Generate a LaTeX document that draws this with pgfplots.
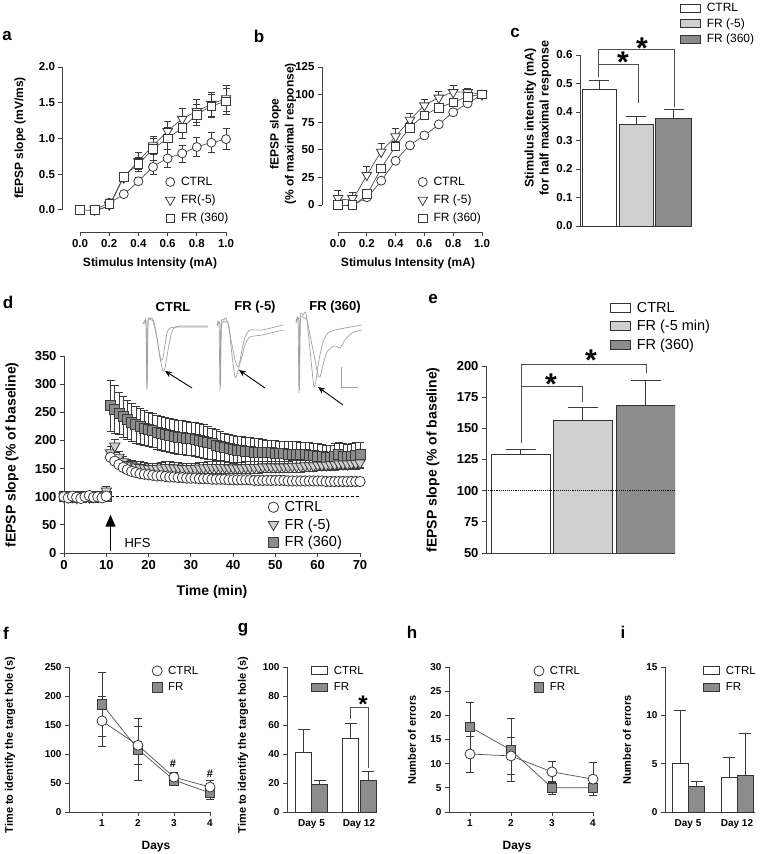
\documentclass[border=0pt]{standalone}
\usepackage{pgfplots}
\pgfplotsset{compat=1.18}
\usepackage{fontspec}
\setmainfont{Liberation Sans}
\usetikzlibrary{arrows.meta}
\definecolor{axc}{HTML}{404040}
\definecolor{mkc}{HTML}{3A3A3A}
\definecolor{lnc}{HTML}{505050}
\definecolor{lgray}{HTML}{CFCFCF}
\definecolor{dgray}{HTML}{8C8C8C}
\definecolor{trc}{HTML}{A0A0A0}
\definecolor{barc}{HTML}{333333}
\newcommand{\fs}[1]{\fontsize{#1}{#1}\selectfont}
\pgfplotsset{
  base/.style={scale only axis, anchor=south west, clip=false,
    axis x line*=bottom, axis y line*=left,
    tick align=outside, major tick length=4pt,
    every tick/.append style={line width=0.8pt, color=axc},
    axis line style={line width=0.8pt, color=axc},
    /pgf/number format/assume math mode=true,
    legend cell align=left,
    legend style={draw=none, fill=none, inner sep=0pt, outer sep=0pt, anchor=north west,
      /tikz/every odd column/.append style={column sep=4pt}}},
  mleg/.style={legend image code/.code={\draw[##1] plot coordinates {(#1,0pt)};}},
  bleg/.style 2 args={legend image code/.code={\draw[##1] (0pt,-#2) rectangle (#1,#2);}},
  eb/.style={/pgfplots/error bars/y dir=both, /pgfplots/error bars/y explicit,
    /pgfplots/error bars/error bar style={line width=0.7pt, color=mkc},
    /pgfplots/error bars/error mark options={rotate=90, mark size=#1, line width=0.7pt, color=mkc}},
  ebp/.style={eb=#1, /pgfplots/error bars/y dir=plus},
  cM/.style={only marks, mark=*, mark size=#1, color=mkc, mark options={fill=white, line width=0.8pt}},
  tM/.style 2 args={only marks, mark=triangle*, mark size=#1, color=mkc, mark options={rotate=180, fill=#2, line width=0.8pt}},
  sM/.style 2 args={only marks, mark=square*, mark size=#1, color=mkc, mark options={fill=#2, line width=0.8pt}},
  ln/.style={no marks, color=lnc, line width=0.7pt, forget plot},
  bb/.style 2 args={ybar, bar width=#1, bar shift=0pt, fill=#2, draw=barc, line width=0.8pt},
}
\begin{document}
\begin{tikzpicture}
\path[use as bounding box] (0pt,0pt) rectangle (762pt,854pt);
% ---------- canvas for inset traces ----------
\begin{axis}[at={(0pt,0pt)}, anchor=south west, scale only axis, width=762pt, height=854pt,
  xmin=0, xmax=762, ymin=0, ymax=854, y dir=reverse, hide axis, clip=false]
\addplot[trc, line width=0.7pt, smooth, tension=0.4] coordinates {(143,323) (145,323) (146,322) (147,390) (148,322) (150,319) (152,318) (154,322) (157,338) (160,358) (163,371) (165,368) (168,350) (171,335) (174,328) (180,326) (195,326) (208,326)};
\addplot[trc, line width=0.7pt, smooth, tension=0.4] coordinates {(143,324) (146,323) (147,388) (148,323) (151,320) (153,321) (156,333) (159,350) (161,360) (163,358) (165,345) (167,333) (170,328) (180,327) (208,327)};
\addplot[trc, line width=0.7pt, smooth, tension=0.4] coordinates {(217,325) (219,324) (220,390) (221,324) (224,320) (226,318) (229,328) (232,355) (235,377) (238,372) (241,355) (245,337) (250,330) (262,330) (283,325)};
\addplot[trc, line width=0.7pt, smooth, tension=0.4] coordinates {(217,326) (220,325) (220.5,386) (221.5,326) (225,322) (228,323) (231,340) (235,360) (238,367) (241,360) (245,345) (250,337) (262,335) (283,330)};
\addplot[trc, line width=0.7pt, smooth, tension=0.4] coordinates {(296,322) (298,320) (299,393) (300,318) (303,315) (306,313) (309,340) (312,370) (314,387) (316,380) (319,360) (323,342) (328,333) (335,330) (345,328) (362,325)};
\addplot[trc, line width=0.7pt, smooth, tension=0.4] coordinates {(296,323) (299,321) (299.5,390) (300.5,320) (304,318) (307,320) (311,340) (315,360) (318,375) (320,377) (323,365) (327,352) (332,347) (336,346) (340,348) (345,340) (352,333) (362,330)};
\addplot[trc, line width=0.8pt] coordinates {(341,367) (341,387) (358,387)};
\draw[-{Stealth[length=7pt,width=6pt]}, line width=0.9pt] (axis cs:192,388) -- (axis cs:165,371);
\draw[-{Stealth[length=7pt,width=6pt]}, line width=0.9pt] (axis cs:265,388) -- (axis cs:239,370);
\draw[-{Stealth[length=7pt,width=6pt]}, line width=0.9pt] (axis cs:343,405) -- (axis cs:318,387);
\end{axis}
% ---------- panel a ----------
\begin{axis}[base, at={(62.5pt,622pt)}, width=163.5pt, height=165pt,
  xmin=-0.12, xmax=1, ymin=-0.31, ymax=2,
  axis line style={draw=none},
  xtick={0,0.2,0.4,0.6,0.8,1}, ytick={0,0.5,1,1.5,2},
  tick label style={font=\fs{11.5}\bfseries},
  xticklabel style={/pgf/number format/.cd,fixed,fixed zerofill,precision=1},
  yticklabel style={/pgf/number format/.cd,fixed,fixed zerofill,precision=1},
  mleg=5pt,
  legend style={at={(0.63,0.345)}, font=\fs{12}, row sep=4pt}]
\draw[axc, line width=0.8pt] (axis cs:-0.12,0) -- (axis cs:-0.12,2);
\draw[axc, line width=0.8pt] (axis cs:0,-0.31) -- (axis cs:1,-0.31);
\addplot[ln, smooth] coordinates {(0.1,0) (0.2,0.1) (0.3,0.22) (0.4,0.4) (0.5,0.6) (0.6,0.72) (0.7,0.79) (0.8,0.88) (0.9,0.94) (1,0.99)};
\addplot[ln, smooth] coordinates {(0.1,0) (0.2,0.07) (0.3,0.45) (0.4,0.68) (0.5,0.9) (0.6,1.1) (0.7,1.27) (0.8,1.38) (0.9,1.48) (1,1.56)};
\addplot[ln, smooth] coordinates {(0,0) (0.1,0) (0.2,0.08) (0.3,0.46) (0.4,0.64) (0.5,0.85) (0.6,1.0) (0.7,1.15) (0.8,1.33) (0.9,1.45) (1,1.52)};
\addplot[cM=4.5pt, eb=3.5pt] coordinates {(0.1,0)+-(0,0.01) (0.2,0.1)+-(0,0.02) (0.3,0.22)+-(0,0.03) (0.4,0.4)+-(0,0.05) (0.5,0.6)+-(0,0.1) (0.6,0.72)+-(0,0.12) (0.7,0.79)+-(0,0.12) (0.8,0.88)+-(0,0.13) (0.9,0.94)+-(0,0.14) (1,0.99)+-(0,0.15)};
\addlegendentry{CTRL}
\addplot[tM={5.5pt}{white}, eb=3.5pt] coordinates {(0.1,0)+-(0,0.01) (0.2,0.07)+-(0,0.02) (0.3,0.45)+-(0,0.05) (0.4,0.68)+-(0,0.12) (0.5,0.9)+-(0,0.13) (0.6,1.1)+-(0,0.14) (0.7,1.27)+-(0,0.15) (0.8,1.38)+-(0,0.16) (0.9,1.48)+-(0,0.17) (1,1.56)+-(0,0.18)};
\addlegendentry{FR(-5)}
\addplot[sM={4.3pt}{white}, eb=3.5pt] coordinates {(0,0)+-(0,0.01) (0.1,0)+-(0,0.01) (0.2,0.08)+-(0,0.02) (0.3,0.46)+-(0,0.05) (0.4,0.64)+-(0,0.1) (0.5,0.85)+-(0,0.15) (0.6,1.0)+-(0,0.15) (0.7,1.15)+-(0,0.15) (0.8,1.33)+-(0,0.15) (0.9,1.45)+-(0,0.16) (1,1.52)+-(0,0.18)};
\addlegendentry{FR (360)}
\end{axis}
% ---------- panel b ----------
\begin{axis}[base, at={(322pt,622pt)}, width=160pt, height=165pt,
  xmin=-0.111, xmax=1, ymin=-24.5, ymax=125,
  axis line style={draw=none},
  xtick={0,0.2,0.4,0.6,0.8,1}, ytick={0,25,50,75,100,125},
  tick label style={font=\fs{11.5}\bfseries},
  xticklabel style={/pgf/number format/.cd,fixed,fixed zerofill,precision=1},
  mleg=5pt,
  legend style={at={(0.6,0.345)}, font=\fs{12}, row sep=4pt}]
\draw[axc, line width=0.8pt] (axis cs:-0.111,0) -- (axis cs:-0.111,125);
\draw[axc, line width=0.8pt] (axis cs:0,-24.5) -- (axis cs:1,-24.5);
\addplot[ln, smooth] coordinates {(0.1,0) (0.2,7) (0.3,22) (0.4,40) (0.5,54) (0.6,63) (0.7,73) (0.8,84) (0.9,92) (1,100)};
\addplot[ln, smooth] coordinates {(0,6) (0.1,6) (0.2,27) (0.3,48) (0.4,62) (0.5,77) (0.6,90) (0.7,97) (0.8,102) (0.9,102) (1,100)};
\addplot[ln, smooth] coordinates {(0,0) (0.1,0) (0.2,10) (0.3,33) (0.4,53) (0.5,70) (0.6,81) (0.7,88) (0.8,93) (0.9,98) (1,100)};
\addplot[cM=4.5pt, ebp=3.5pt] coordinates {(0.1,0)+-(0,2) (0.2,7)+-(0,2) (0.3,22)+-(0,3) (0.4,40)+-(0,3) (0.5,54)+-(0,3) (0.6,63)+-(0,3) (0.7,73)+-(0,3) (0.8,84)+-(0,3) (0.9,92)+-(0,3) (1,100)+-(0,0)};
\addlegendentry{CTRL}
\addplot[tM={5.5pt}{white}, ebp=3.5pt] coordinates {(0,6)+-(0,7) (0.1,6)+-(0,5) (0.2,27)+-(0,8) (0.3,48)+-(0,8) (0.4,62)+-(0,7) (0.5,77)+-(0,6) (0.6,90)+-(0,6) (0.7,97)+-(0,6) (0.8,102)+-(0,6) (0.9,102)+-(0,4) (1,100)+-(0,0)};
\addlegendentry{FR (-5)}
\addplot[sM={4.3pt}{white}, ebp=3.5pt] coordinates {(0,0)+-(0,3) (0.1,0)+-(0,2) (0.2,10)+-(0,3) (0.3,33)+-(0,4) (0.4,53)+-(0,5) (0.5,70)+-(0,5) (0.6,81)+-(0,4) (0.7,88)+-(0,3) (0.8,93)+-(0,3) (0.9,98)+-(0,2) (1,100)+-(0,0)};
\addlegendentry{FR (360)}
\end{axis}
% ---------- panel c ----------
\begin{axis}[base, at={(580pt,628pt)}, width=112pt, height=171pt,
  xmin=0, xmax=112, ymin=0, ymax=0.6,
  xtick=\empty, ytick={0,0.1,0.2,0.3,0.4,0.5,0.6},
  tick label style={font=\fs{11.5}\bfseries},
  yticklabel style={/pgf/number format/.cd,fixed,fixed zerofill,precision=1},
  bleg={20pt}{4pt},
  legend style={at={(0.893,1.316)}, font=\fs{12}, row sep=1.5pt}]
\addplot[bb={34}{white}, ebp=10pt] coordinates {(19,0.48)+-(0,0.03)};
\addlegendentry{CTRL}
\addplot[bb={34}{lgray}, ebp=10pt] coordinates {(56,0.355)+-(0,0.029)};
\addlegendentry{FR (-5)}
\addplot[bb={36}{dgray}, ebp=10pt] coordinates {(93.5,0.378)+-(0,0.032)};
\addlegendentry{FR (360)}
\draw[lnc, line width=1pt] (axis cs:18,0.523) -- (axis cs:18,0.618) -- (axis cs:94,0.618) -- (axis cs:94,0.418);
\draw[lnc, line width=1pt] (axis cs:18,0.565) -- (axis cs:58,0.565) -- (axis cs:58,0.432);
\end{axis}
% ---------- panel d ----------
\begin{axis}[base, at={(64pt,301pt)}, width=296pt, height=197pt,
  xmin=0, xmax=70, ymin=0, ymax=350,
  xtick={0,10,20,30,40,50,60,70}, ytick={0,50,100,150,200,250,300,350},
  tick label style={font=\fs{13}\bfseries},
  mleg=6pt, reverse legend,
  legend style={at={(0.69,0.272)}, font=\fs{14.5}, row sep=1.5pt}]
\draw[black, densely dashed, line width=0.8pt] (axis cs:11,100) -- (axis cs:70,100);
\addplot[sM={5pt}{dgray}, eb=4pt] coordinates {(0,100)+-(0,4) (1,101)+-(0,4) (2,99)+-(0,4) (3,100)+-(0,4) (4,98)+-(0,4) (5,101)+-(0,4) (6,100)+-(0,4) (7,99)+-(0,4) (8,100)+-(0,4) (9,101)+-(0,4) (10,100)+-(0,4)
(11,262)+-(0,45) (12,255)+-(0,42) (13,248)+-(0,38) (14,242)+-(0,36) (15,237)+-(0,35) (16,232)+-(0,34) (17,228)+-(0,33) (18,225)+-(0,32) (19,222)+-(0,31) (20,220)+-(0,30)
(21,218)+-(0,30) (22,215)+-(0,30) (23,213)+-(0,30) (24,211)+-(0,30) (25,209)+-(0,30) (26,207)+-(0,30) (27,206)+-(0,30) (28,205)+-(0,30) (29,204)+-(0,30) (30,203)+-(0,30)
(31,202)+-(0,30) (32,200)+-(0,30) (33,198)+-(0,30) (34,196)+-(0,29) (35,194)+-(0,28) (36,192)+-(0,27) (37,190)+-(0,26) (38,188)+-(0,25) (39,186)+-(0,25) (40,184)+-(0,25)
(41,183)+-(0,25) (42,182)+-(0,25) (43,181)+-(0,25) (44,180)+-(0,25) (45,179)+-(0,24) (46,179)+-(0,24) (47,178)+-(0,24) (48,178)+-(0,23) (49,178)+-(0,23) (50,177)+-(0,23)
(51,177)+-(0,22) (52,177)+-(0,22) (53,176)+-(0,22) (54,176)+-(0,22) (55,176)+-(0,22) (56,175)+-(0,22) (57,175)+-(0,22) (58,174)+-(0,22) (59,173)+-(0,22) (60,172)+-(0,22)
(61,171)+-(0,22) (62,170)+-(0,22) (63,170)+-(0,22) (64,172)+-(0,22) (65,175)+-(0,22) (66,172)+-(0,22) (67,171)+-(0,22) (68,172)+-(0,22) (69,174)+-(0,22) (70,175)+-(0,22)};
\addlegendentry{FR (360)}
\addplot[tM={6pt}{lgray}, eb=4pt] coordinates {(0,100)+-(0,4) (1,99)+-(0,4) (2,100)+-(0,4) (3,98)+-(0,4) (4,101)+-(0,4) (5,100)+-(0,4) (6,99)+-(0,4) (7,100)+-(0,4) (8,101)+-(0,4) (9,102)+-(0,4) (10,110)+-(0,8)
(11,178)+-(0,12) (12,190)+-(0,12) (13,170)+-(0,11) (14,162)+-(0,10) (15,157)+-(0,10) (16,155)+-(0,10) (17,153)+-(0,10) (18,152)+-(0,10) (19,151)+-(0,10) (20,150)+-(0,10)
(21,150)+-(0,10) (22,150)+-(0,10) (23,151)+-(0,10) (24,152)+-(0,10) (25,152)+-(0,10) (26,151)+-(0,10) (27,151)+-(0,10) (28,150)+-(0,10) (29,150)+-(0,10) (30,150)+-(0,10)
(31,150)+-(0,10) (32,151)+-(0,10) (33,151)+-(0,10) (34,152)+-(0,10) (35,152)+-(0,10) (36,152)+-(0,10) (37,152)+-(0,10) (38,152)+-(0,10) (39,151)+-(0,10) (40,151)+-(0,10)
(41,151)+-(0,10) (42,151)+-(0,10) (43,152)+-(0,10) (44,152)+-(0,10) (45,152)+-(0,10) (46,152)+-(0,10) (47,153)+-(0,10) (48,153)+-(0,10) (49,153)+-(0,10) (50,153)+-(0,10)
(51,153)+-(0,10) (52,153)+-(0,10) (53,153)+-(0,10) (54,154)+-(0,10) (55,154)+-(0,10) (56,154)+-(0,10) (57,155)+-(0,10) (58,155)+-(0,10) (59,155)+-(0,10) (60,156)+-(0,10)
(61,156)+-(0,10) (62,156)+-(0,10) (63,157)+-(0,10) (64,157)+-(0,10) (65,158)+-(0,10) (66,158)+-(0,10) (67,158)+-(0,10) (68,159)+-(0,10) (69,159)+-(0,10) (70,160)+-(0,10)};
\addlegendentry{FR (-5)}
\addplot[cM=5.2pt, eb=3pt] coordinates {(0,100)+-(0,4) (1,98)+-(0,4) (2,101)+-(0,4) (3,99)+-(0,4) (4,97)+-(0,4) (5,100)+-(0,4) (6,102)+-(0,4) (7,99)+-(0,4) (8,100)+-(0,4) (9,98)+-(0,4) (10,101)+-(0,4)
(11,170)+-(0,8) (12,163)+-(0,8) (13,157)+-(0,7) (14,152)+-(0,7) (15,148)+-(0,6) (16,145)+-(0,6) (17,143)+-(0,6) (18,141)+-(0,6) (19,140)+-(0,6) (20,139)+-(0,6)
(21,138)+-(0,5) (22,137)+-(0,5) (23,137)+-(0,5) (24,136)+-(0,5) (25,135)+-(0,5) (26,135)+-(0,5) (27,134)+-(0,5) (28,134)+-(0,5) (29,133)+-(0,5) (30,133)+-(0,5)
(31,133)+-(0,5) (32,132)+-(0,5) (33,132)+-(0,5) (34,132)+-(0,5) (35,131)+-(0,5) (36,131)+-(0,5) (37,131)+-(0,5) (38,131)+-(0,5) (39,130)+-(0,5) (40,130)+-(0,5)
(41,130)+-(0,5) (42,130)+-(0,5) (43,130)+-(0,5) (44,130)+-(0,5) (45,129)+-(0,5) (46,129)+-(0,5) (47,129)+-(0,5) (48,129)+-(0,5) (49,129)+-(0,5) (50,129)+-(0,5)
(51,129)+-(0,5) (52,129)+-(0,5) (53,128)+-(0,5) (54,128)+-(0,5) (55,128)+-(0,5) (56,128)+-(0,5) (57,128)+-(0,5) (58,128)+-(0,5) (59,128)+-(0,5) (60,128)+-(0,5)
(61,128)+-(0,5) (62,127)+-(0,5) (63,127)+-(0,5) (64,127)+-(0,5) (65,127)+-(0,5) (66,127)+-(0,5) (67,127)+-(0,5) (68,127)+-(0,5) (69,127)+-(0,5) (70,127)+-(0,5)};
\addlegendentry{CTRL}
\draw[-{Triangle[width=10pt,length=12pt]}, line width=1.3pt, black] (axis cs:11,3) -- (axis cs:11,68);
\end{axis}
% ---------- panel e ----------
\begin{axis}[base, at={(486pt,301pt)}, width=189pt, height=187pt,
  xmin=0, xmax=189, ymin=50, ymax=200, clip=true, clip mode=individual,
  xtick=\empty, ytick={50,75,100,125,150,175,200},
  tick label style={font=\fs{13}\bfseries},
  bleg={20pt}{4.5pt},
  legend style={at={(0.656,1.353)}, font=\fs{14.5}, row sep=2.5pt}]
\addplot[bb={59}{white}, ebp=15pt] coordinates {(34.5,129)+-(0,4.4)};
\addlegendentry{CTRL}
\addplot[bb={59}{lgray}, ebp=15pt] coordinates {(96.5,156.5)+-(0,10.5)};
\addlegendentry{FR (-5 min)}
\addplot[bb={59}{dgray}, ebp=15pt] coordinates {(159.5,168.5)+-(0,20)};
\addlegendentry{FR (360)}
\draw[black, densely dotted, line width=0.9pt] (axis cs:0,100) -- (axis cs:189,100);
\draw[lnc, line width=1pt] (axis cs:35,138.2) -- (axis cs:35,200.8) -- (axis cs:160,200.8) -- (axis cs:160,194.4);
\draw[lnc, line width=1pt] (axis cs:35,183.2) -- (axis cs:96,183.2) -- (axis cs:96,171);
\end{axis}
% ---------- panel f ----------
\begin{axis}[base, at={(69pt,42pt)}, width=141pt, height=145pt,
  xmin=0.083, xmax=4, ymin=0, ymax=250,
  xtick={1,2,3,4}, ytick={0,50,100,150,200,250},
  tick label style={font=\fs{10}\bfseries},
  mleg=5pt, reverse legend,
  legend style={at={(0.59,1.02)}, font=\fs{11.5}, row sep=3pt}]
\addplot[ln] coordinates {(1,186) (2,108) (3,55) (4,33)};
\addplot[ln] coordinates {(1,157) (2,115) (3,60) (4,43)};
\addplot[sM={4.8pt}{dgray}, eb=4pt] coordinates {(1,186)+-(0,55) (2,108)+-(0,54) (3,55)+-(0,7) (4,33)+-(0,12)};
\addlegendentry{FR}
\addplot[cM=5pt, eb=4pt] coordinates {(1,157)+-(0,43) (2,115)+-(0,32) (3,60)+-(0,8) (4,43)+-(0,12)};
\addlegendentry{CTRL}
\end{axis}
% ---------- panel g ----------
\begin{axis}[base, at={(287pt,42pt)}, width=90pt, height=145pt,
  xmin=0, xmax=90, ymin=0, ymax=100,
  xtick={24.5,72}, xticklabels={Day 5,Day 12}, ytick={0,20,40,60,80,100},
  xtick style={draw=none},
  tick label style={font=\fs{10}\bfseries},
  bleg={16pt}{4pt},
  legend style={at={(0.267,1.02)}, font=\fs{11.5}, row sep=3pt}]
\addplot[bb={16}{white}, ebp=6pt] coordinates {(16.5,41)+-(0,16)};
\addlegendentry{CTRL}
\addplot[bb={16}{dgray}, ebp=6pt] coordinates {(32.5,19)+-(0,2.5)};
\addlegendentry{FR}
\addplot[bb={16}{white}, ebp=6pt, forget plot] coordinates {(63.5,51)+-(0,10)};
\addplot[bb={16}{dgray}, ebp=6pt, forget plot] coordinates {(81,22)+-(0,6)};
\draw[lnc, line width=1pt] (axis cs:63.5,64) -- (axis cs:63.5,72) -- (axis cs:81,72) -- (axis cs:81,30);
\end{axis}
% ---------- panel h ----------
\begin{axis}[base, at={(449pt,42pt)}, width=144pt, height=145pt,
  xmin=0.488, xmax=4, ymin=0, ymax=30,
  xtick={1,2,3,4}, ytick={0,5,10,15,20,25,30},
  tick label style={font=\fs{10}\bfseries},
  mleg=5pt, reverse legend,
  legend style={at={(0.59,1.02)}, font=\fs{11.5}, row sep=3pt}]
\addplot[ln] coordinates {(1,17.6) (2,12.8) (3,5) (4,5)};
\addplot[ln] coordinates {(1,12) (2,11.6) (3,8.3) (4,6.8)};
\addplot[sM={4.8pt}{dgray}, eb=4pt] coordinates {(1,17.6)+-(0,5) (2,12.8)+-(0,6.5) (3,5)+-(0,1.3) (4,5)+-(0,1.6)};
\addlegendentry{FR}
\addplot[cM=5pt, eb=4pt] coordinates {(1,12)+-(0,3.7) (2,11.6)+-(0,3.9) (3,8.3)+-(0,2.2) (4,6.8)+-(0,3.4)};
\addlegendentry{CTRL}
\end{axis}
% ---------- panel i ----------
\begin{axis}[base, at={(665pt,42pt)}, width=90pt, height=145pt,
  xmin=0, xmax=90, ymin=0, ymax=15,
  xtick={23,72}, xticklabels={Day 5,Day 12}, ytick={0,5,10,15},
  xtick style={draw=none},
  tick label style={font=\fs{10}\bfseries},
  bleg={16pt}{4pt},
  legend style={at={(0.422,1.02)}, font=\fs{11.5}, row sep=3pt}]
\addplot[bb={16}{white}, ebp=6pt] coordinates {(15,5)+-(0,5.5)};
\addlegendentry{CTRL}
\addplot[bb={16}{dgray}, ebp=6pt] coordinates {(31.5,2.6)+-(0,0.6)};
\addlegendentry{FR}
\addplot[bb={16}{white}, ebp=6pt, forget plot] coordinates {(64,3.6)+-(0,2.1)};
\addplot[bb={16}{dgray}, ebp=6pt, forget plot] coordinates {(80,3.8)+-(0,4.3)};
\end{axis}
% ---------- text ----------
\begin{scope}[x=1pt, y=-1pt, shift={(0pt,854pt)}]
\node[font=\fs{17}\bfseries] at (7,36) {a};
\node[font=\fs{17}\bfseries] at (259,36) {b};
\node[font=\fs{17}\bfseries] at (515,33) {c};
\node[font=\fs{17}\bfseries] at (8,302) {d};
\node[font=\fs{17}\bfseries] at (433,299) {e};
\node[font=\fs{17}\bfseries] at (6,633) {f};
\node[font=\fs{17}\bfseries] at (243,630) {g};
\node[font=\fs{17}\bfseries] at (412,632) {h};
\node[font=\fs{17}\bfseries] at (623,632) {i};
\node[rotate=90, font=\fs{12}\bfseries] at (20,138) {fEPSP slope (mV/ms)};
\node[rotate=90, font=\fontsize{12}{15}\selectfont\bfseries, align=center] at (283,134) {fEPSP slope\\(\% of maximal response)};
\node[rotate=90, font=\fontsize{12.5}{15}\selectfont\bfseries, align=center] at (538,118) {Stimulus intensity (mA)\\for half maximal response};
\node[rotate=90, font=\fs{14}\bfseries] at (12,455) {fEPSP slope (\% of baseline)};
\node[rotate=90, font=\fs{14}\bfseries] at (433,460) {fEPSP slope (\% of baseline)};
\node[rotate=90, font=\fs{11}\bfseries] at (10,745) {Time to identify the target hole (s)};
\node[rotate=90, font=\fs{11}\bfseries] at (243,745) {Time to identify the target hole (s)};
\node[rotate=90, font=\fs{11}\bfseries] at (412,740) {Number of errors};
\node[rotate=90, font=\fs{11}\bfseries] at (627,740) {Number of errors};
\node[font=\fs{12}\bfseries] at (150,263) {Stimulus Intensity (mA)};
\node[font=\fs{12}\bfseries] at (408,263) {Stimulus Intensity (mA)};
\node[font=\fs{14}\bfseries] at (212,592) {Time (min)};
\node[font=\fs{12}\bfseries] at (156,847) {Days};
\node[font=\fs{12}\bfseries] at (517,847) {Days};
\node[font=\fs{13}\bfseries] at (173,307) {CTRL};
\node[font=\fs{13}\bfseries] at (255,307) {FR (-5)};
\node[font=\fs{13}\bfseries] at (335,307) {FR (360)};
\node[font=\fs{13}, anchor=west] at (121,543) {HFS};
\node[font=\fs{30}\bfseries, anchor=north, inner sep=0pt] at (642,38) {*};
\node[font=\fs{30}\bfseries, anchor=north, inner sep=0pt] at (623,52) {*};
\node[font=\fs{30}\bfseries, anchor=north, inner sep=0pt] at (591,350) {*};
\node[font=\fs{30}\bfseries, anchor=north, inner sep=0pt] at (551,374) {*};
\node[font=\fs{24}\bfseries, anchor=north, inner sep=0pt] at (363,696) {*};
\node[font=\fs{11}\bfseries] at (173,764) {\#};
\node[font=\fs{11}\bfseries] at (210,774) {\#};
\end{scope}
\end{tikzpicture}
\end{document}
